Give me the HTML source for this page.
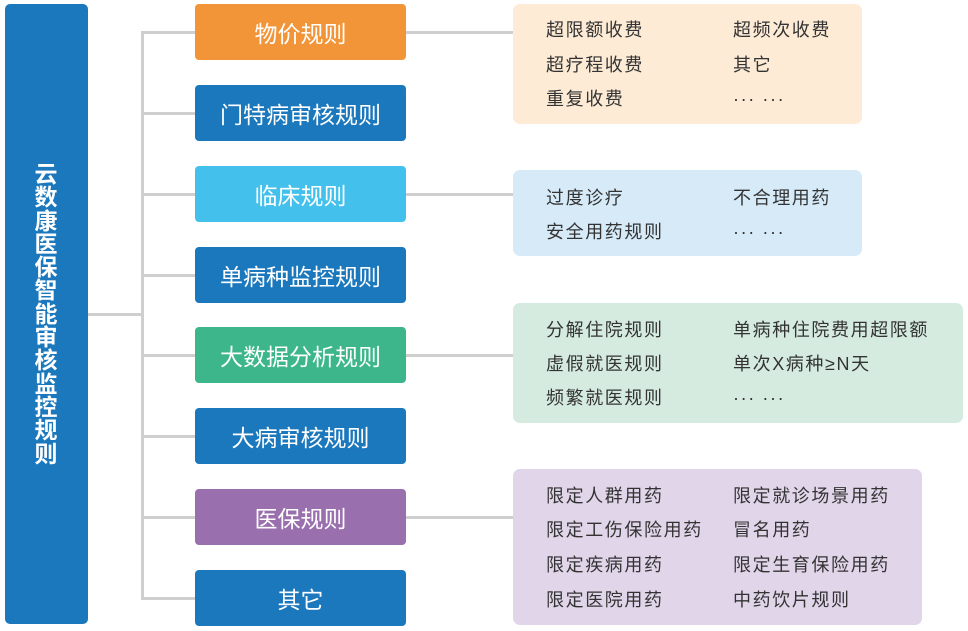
<!DOCTYPE html>
<html><head><meta charset="utf-8"><style>
body{margin:0;width:968px;height:631px;background:#fff;position:relative;overflow:hidden;font-family:"Liberation Sans","Noto Sans CJK SC",sans-serif}
.a{position:absolute}
.l{position:absolute;background:#cfcfcf}
.m{position:absolute;left:195px;width:211px;height:56px;border-radius:4px;color:#fff;font-size:23px;display:flex;align-items:center;justify-content:center}
.p{position:absolute;left:513px;border-radius:7px}
.t{position:absolute;font-size:18px;letter-spacing:1.6px;color:#333;line-height:20px;white-space:nowrap}
</style></head><body>
<div class="a" style="left:5px;top:4px;width:83px;height:620px;background:#1c78bd;border-radius:5px"></div>
<div class="a" style="left:33px;top:163px;width:26px;font-size:23px;font-weight:bold;color:#fff;line-height:23.3px;text-align:center">云数康医保智能审核监控规则</div>
<div class="l" style="left:88px;top:313px;width:54px;height:3px"></div>
<div class="l" style="left:141px;top:31px;width:3px;height:569px"></div>
<div class="l" style="left:141px;top:31px;width:54px;height:3px"></div>
<div class="l" style="left:141px;top:112px;width:54px;height:3px"></div>
<div class="l" style="left:141px;top:193px;width:54px;height:3px"></div>
<div class="l" style="left:141px;top:274px;width:54px;height:3px"></div>
<div class="l" style="left:141px;top:354px;width:54px;height:3px"></div>
<div class="l" style="left:141px;top:435px;width:54px;height:3px"></div>
<div class="l" style="left:141px;top:516px;width:54px;height:3px"></div>
<div class="l" style="left:141px;top:597px;width:54px;height:3px"></div>
<div class="l" style="left:406px;top:31px;width:107px;height:3px"></div>
<div class="l" style="left:406px;top:193px;width:107px;height:3px"></div>
<div class="l" style="left:406px;top:354px;width:107px;height:3px"></div>
<div class="l" style="left:406px;top:516px;width:107px;height:3px"></div>
<div class="m" style="top:4px;background:#f29539">物价规则</div>
<div class="m" style="top:85px;background:#1c78bd">门特病审核规则</div>
<div class="m" style="top:166px;background:#44c0ec">临床规则</div>
<div class="m" style="top:247px;background:#1c78bd">单病种监控规则</div>
<div class="m" style="top:327px;background:#3db68c">大数据分析规则</div>
<div class="m" style="top:408px;background:#1c78bd">大病审核规则</div>
<div class="m" style="top:489px;background:#9a6fae">医保规则</div>
<div class="m" style="top:570px;background:#1c78bd">其它</div>
<div class="p" style="top:4px;width:349px;height:120px;background:#fdebd6"></div>
<div class="p" style="top:170px;width:349px;height:86px;background:#d6eaf8"></div>
<div class="p" style="top:303px;width:450px;height:120px;background:#d5ebe0"></div>
<div class="p" style="top:469px;width:409px;height:156px;background:#e1d5ea"></div>
<div class="t" style="left:546px;top:20px">超限额收费</div><div class="t" style="left:733px;top:20px">超频次收费</div>
<div class="t" style="left:546px;top:55px">超疗程收费</div><div class="t" style="left:733px;top:55px">其它</div>
<div class="t" style="left:546px;top:89px">重复收费</div><div class="t" style="left:733px;top:89px">··· ···</div>
<div class="t" style="left:546px;top:188px">过度诊疗</div><div class="t" style="left:733px;top:188px">不合理用药</div>
<div class="t" style="left:546px;top:222px">安全用药规则</div><div class="t" style="left:733px;top:222px">··· ···</div>
<div class="t" style="left:546px;top:320px">分解住院规则</div><div class="t" style="left:733px;top:320px">单病种住院费用超限额</div>
<div class="t" style="left:546px;top:354px">虚假就医规则</div><div class="t" style="left:733px;top:354px">单次X病种≥N天</div>
<div class="t" style="left:546px;top:388px">频繁就医规则</div><div class="t" style="left:733px;top:388px">··· ···</div>
<div class="t" style="left:546px;top:486px">限定人群用药</div><div class="t" style="left:733px;top:486px">限定就诊场景用药</div>
<div class="t" style="left:546px;top:520px">限定工伤保险用药</div><div class="t" style="left:733px;top:520px">冒名用药</div>
<div class="t" style="left:546px;top:555px">限定疾病用药</div><div class="t" style="left:733px;top:555px">限定生育保险用药</div>
<div class="t" style="left:546px;top:590px">限定医院用药</div><div class="t" style="left:733px;top:590px">中药饮片规则</div>
</body></html>
